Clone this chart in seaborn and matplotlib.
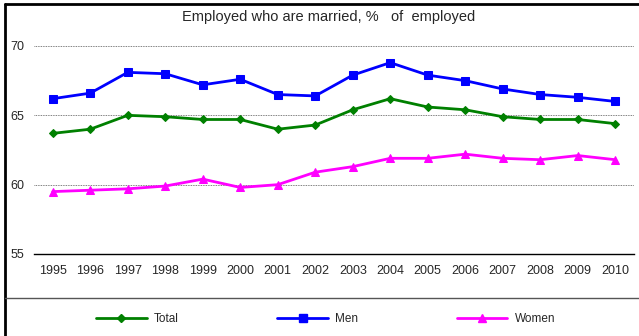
import matplotlib
matplotlib.use("Agg")
import matplotlib.pyplot as plt
import matplotlib.lines as mlines
import numpy as np
import pandas as pd
import seaborn as sns

years = [str(y) for y in range(1995, 2011)]
total = [63.7, 64.0, 65.0, 64.9, 64.7, 64.7, 64.0, 64.3, 65.4, 66.2, 65.6, 65.4, 64.9, 64.7, 64.7, 64.4]
men = [66.2, 66.6, 68.1, 68.0, 67.2, 67.6, 66.5, 66.4, 67.9, 68.8, 67.9, 67.5, 66.9, 66.5, 66.3, 66.0]
women = [59.5, 59.6, 59.7, 59.9, 60.4, 59.8, 60.0, 60.9, 61.3, 61.9, 61.9, 62.2, 61.9, 61.8, 62.1, 61.8]

series = {"Total": total, "Men": men, "Women": women}
colors = {"Total": "#008000", "Men": "#0000ff", "Women": "#ff00ff"}
markers = {"Total": "D", "Men": "s", "Women": "^"}
msizes = {"Total": 4, "Men": 6, "Women": 6}

sns.set_style("white")
plt.rcParams["font.family"] = ["Liberation Sans", "DejaVu Sans"]

df = pd.DataFrame({"pos": np.arange(len(years))})
for k, v in series.items():
    df[k] = v

fig = plt.figure(figsize=(6.39, 3.36), dpi=100)
ax = fig.add_axes([34 / 639, 1 - 254 / 336, 600 / 639, 208 / 336])

for name in series:
    sns.lineplot(data=df, x="pos", y=name, ax=ax, color=colors[name],
                 marker=markers[name], markersize=msizes[name],
                 markeredgecolor=colors[name], linewidth=2, label=name,
                 legend=False)

ax.set_xlim(-0.5, len(years) - 0.5)
ax.set_ylim(55, 70)
ax.set_yticks([55, 60, 65, 70])
ax.set_xticks(np.arange(len(years)))
ax.set_xticklabels(years, fontsize=9)
ax.set_xticks(np.arange(len(years) + 1) - 0.5, minor=True)
ax.tick_params(axis="x", which="major", length=0, pad=8)
ax.tick_params(axis="x", which="minor", length=4, width=0.8, color="black", direction="out")
ax.tick_params(axis="y", length=0, labelsize=9, pad=17)
for lbl in ax.get_yticklabels():
    lbl.set_horizontalalignment("left")
ax.set_xlabel("")
ax.set_ylabel("")
ax.grid(axis="y", color="#555555", linestyle=(0, (1, 1)), linewidth=0.6)
ax.set_axisbelow(True)
for s in ["left", "right", "top"]:
    ax.spines[s].set_visible(False)
ax.spines["bottom"].set_color("black")
ax.spines["bottom"].set_linewidth(1.0)

fig.text(329 / 639, 1 - 17 / 336, "Employed who are married, %   of  employed",
         ha="center", va="center", fontsize=10.5)

# frame and separator
fig.add_artist(mlines.Line2D([5 / 639, 5 / 639], [0, 1 - 4 / 336], color="black", linewidth=2))
fig.add_artist(mlines.Line2D([5 / 639, 1], [1 - 4 / 336, 1 - 4 / 336], color="black", linewidth=2))
fig.add_artist(mlines.Line2D([5 / 639, 1], [1 - 298 / 336, 1 - 298 / 336], color="#555555", linewidth=1))

handles = [mlines.Line2D([], [], color=colors[n], marker=markers[n],
                         markersize=msizes[n], linewidth=2) for n in series]
fig.legend(handles, list(series), loc="center", bbox_to_anchor=(0.5 + 6 / 639, 1 - 319 / 336),
           ncol=3, frameon=False, fontsize=8.5, handlelength=4.3,
           columnspacing=8.35, handletextpad=0.6)

fig.savefig("out.png", dpi=100)
